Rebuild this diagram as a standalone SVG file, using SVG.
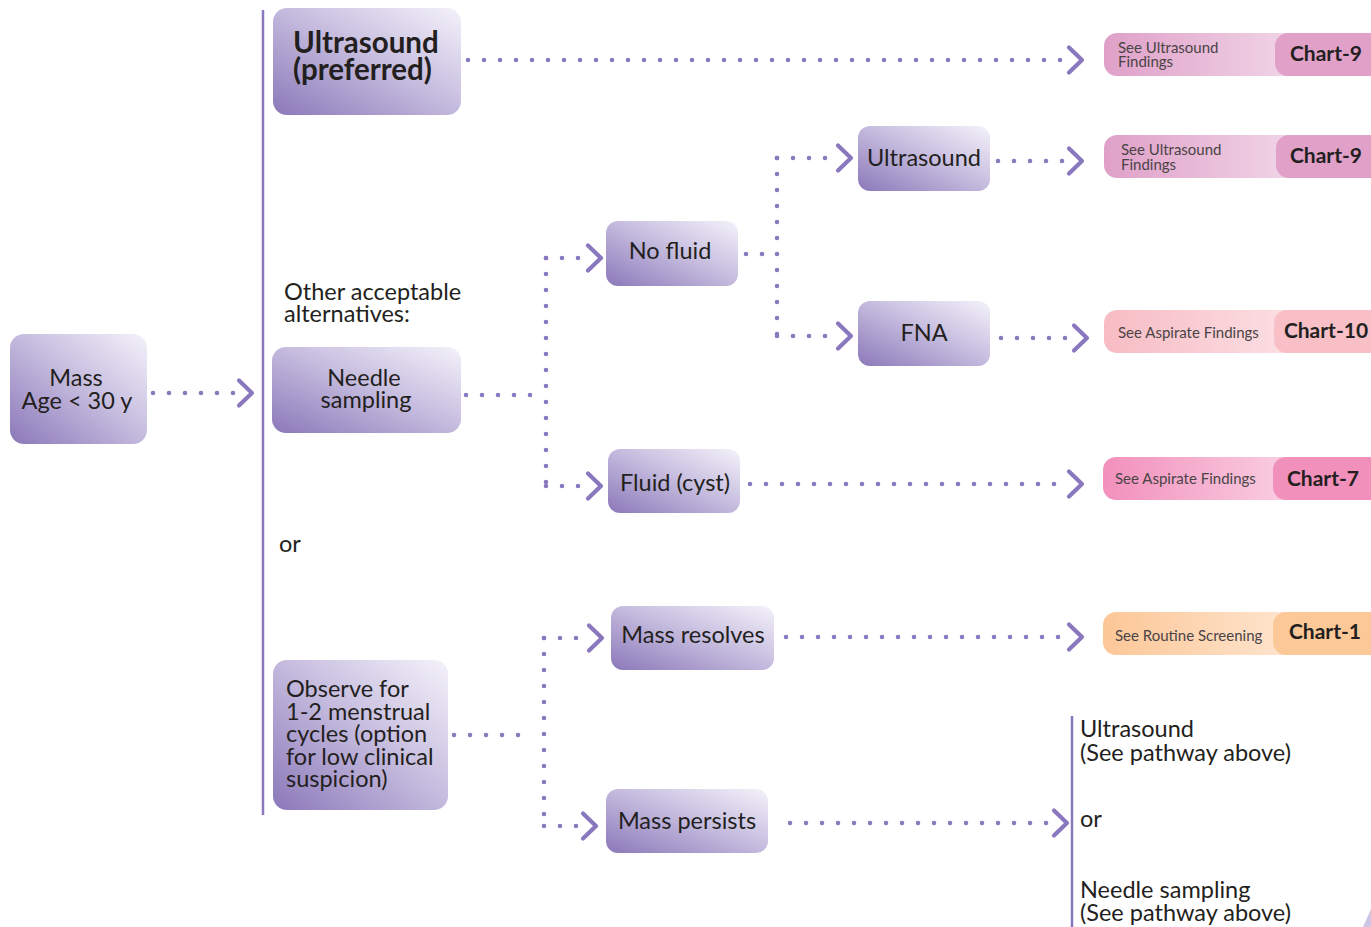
<svg xmlns="http://www.w3.org/2000/svg" xmlns:xlink="http://www.w3.org/1999/xlink" width="1371" height="927" viewBox="0 0 1371 927">
  <defs>
    <linearGradient id="nodeFill" x1="0" y1="1" x2="1" y2="0">
      <stop offset="0" stop-color="#8b78b9"/>
      <stop offset="0.55" stop-color="#c8bfe0"/>
      <stop offset="1" stop-color="#f4f2fa"/>
    </linearGradient>
    <linearGradient id="mauveFill" x1="0" y1="0" x2="1" y2="0">
      <stop offset="0" stop-color="#dfa0c8"/>
      <stop offset="1" stop-color="#f9eef5"/>
    </linearGradient>
    <linearGradient id="roseFill" x1="0" y1="0" x2="1" y2="0">
      <stop offset="0" stop-color="#f7bcc4"/>
      <stop offset="1" stop-color="#fdf0f2"/>
    </linearGradient>
    <linearGradient id="pinkFill" x1="0" y1="0" x2="1" y2="0">
      <stop offset="0" stop-color="#f290bc"/>
      <stop offset="1" stop-color="#fdeef5"/>
    </linearGradient>
    <linearGradient id="peachFill" x1="0" y1="0" x2="1" y2="0">
      <stop offset="0" stop-color="#fcc797"/>
      <stop offset="1" stop-color="#fff3ea"/>
    </linearGradient>
    <path id="chev" d="M-13,-12.5 L0,0 L-13,12.5"/>
    <style>
      .node { fill: url(#nodeFill); }
      .lbl { font-family: Lato, "Liberation Sans", sans-serif; font-size: 23.5px; fill: #231f20; }
      .mid { text-anchor: middle; }
      .big { font-size: 29.5px; font-weight: bold; }
      .dots { fill: none; stroke: #8a78bf; stroke-width: 4.6; stroke-linecap: round; stroke-dasharray: 0 16; }
      .chev { fill: none; stroke: #8a78bf; stroke-width: 4.2; stroke-linecap: round; stroke-linejoin: round; }
      .rule { stroke: #8a78bf; stroke-width: 2.5; }
      .see { font-family: Lato, "Liberation Sans", sans-serif; font-size: 15px; fill: #4a4446; }
      .chart { font-family: Lato, "Liberation Sans", sans-serif; font-size: 21px; font-weight: bold; fill: #231f20; text-anchor: middle; }
    </style>
  </defs>

  <rect width="1371" height="927" fill="#ffffff"/>

  <!-- dividers -->
  <line class="rule" x1="263" y1="10" x2="263" y2="815"/>
  <line class="rule" x1="1072" y1="716" x2="1072" y2="927"/>

  <!-- connectors -->
  <g id="connectors">
    <path class="dots" d="M153,393 H236"/>
    <use href="#chev" class="chev" x="252" y="393"/>

    <path class="dots" d="M468,60 H1066"/>
    <use href="#chev" class="chev" x="1082" y="60"/>

    <path class="dots" d="M466,395 H532"/>
    <path class="dots" d="M546,258 V490"/>
    <path class="dots" d="M546,258 H580"/>
    <use href="#chev" class="chev" x="601" y="258"/>
    <path class="dots" d="M546,486 H580"/>
    <use href="#chev" class="chev" x="601" y="486"/>

    <path class="dots" d="M746,254 H764"/>
    <path class="dots" d="M777,158 V340"/>
    <path class="dots" d="M777,158 H828"/>
    <use href="#chev" class="chev" x="851" y="158"/>
    <path class="dots" d="M777,336 H828"/>
    <use href="#chev" class="chev" x="851" y="336"/>

    <path class="dots" d="M998,161 H1064"/>
    <use href="#chev" class="chev" x="1082" y="161"/>
    <path class="dots" d="M1001,338 H1067"/>
    <use href="#chev" class="chev" x="1087" y="338"/>

    <path class="dots" d="M750,484 H1066"/>
    <use href="#chev" class="chev" x="1082" y="484"/>

    <path class="dots" d="M454,735 H532"/>
    <path class="dots" d="M544,638 V830"/>
    <path class="dots" d="M544,638 H578"/>
    <use href="#chev" class="chev" x="602" y="638"/>
    <path class="dots" d="M544,826 H578"/>
    <use href="#chev" class="chev" x="596" y="826"/>

    <path class="dots" d="M786,637 H1066"/>
    <use href="#chev" class="chev" x="1082" y="637"/>
    <path class="dots" d="M790,823 H1054"/>
    <use href="#chev" class="chev" x="1067" y="823"/>
  </g>

  <!-- nodes -->
  <g id="mass">
    <rect class="node" x="10" y="334" width="137" height="110" rx="14"/>
    <text class="lbl mid" x="76" y="386">Mass</text>
    <text class="lbl mid" x="77" y="409">Age &lt; 30 y</text>
  </g>

  <g id="ultrasound-preferred">
    <rect class="node" x="273" y="8" width="188" height="107" rx="14"/>
    <text class="lbl big" x="293" y="53">Ultrasound</text>
    <text class="lbl big" x="293" y="80">(preferred)</text>
  </g>

  <text class="lbl" x="284" y="300">Other acceptable</text>
  <text class="lbl" x="284" y="322">alternatives:</text>

  <g id="needle-sampling">
    <rect class="node" x="272" y="347" width="189" height="86" rx="14"/>
    <text class="lbl mid" x="364" y="386">Needle</text>
    <text class="lbl mid" x="366" y="408">sampling</text>
  </g>

  <text class="lbl" x="279" y="552">or</text>

  <g id="observe">
    <rect class="node" x="273" y="660" width="175" height="150" rx="14"/>
    <text class="lbl" x="286" y="697">Observe for</text>
    <text class="lbl" x="286" y="720">1-2 menstrual</text>
    <text class="lbl" x="286" y="742">cycles (option</text>
    <text class="lbl" x="286" y="765">for low clinical</text>
    <text class="lbl" x="286" y="787">suspicion)</text>
  </g>

  <g id="no-fluid">
    <rect class="node" x="606" y="221" width="132" height="65" rx="12"/>
    <text class="lbl mid" x="670" y="259">No fluid</text>
  </g>

  <g id="fluid-cyst">
    <rect class="node" x="608" y="449" width="132" height="64" rx="12"/>
    <text class="lbl mid" x="675" y="491">Fluid (cyst)</text>
  </g>

  <g id="ultrasound">
    <rect class="node" x="858" y="126" width="132" height="65" rx="12"/>
    <text class="lbl mid" x="924" y="166">Ultrasound</text>
  </g>

  <g id="fna">
    <rect class="node" x="858" y="301" width="132" height="65" rx="12"/>
    <text class="lbl mid" x="924" y="341">FNA</text>
  </g>

  <g id="mass-resolves">
    <rect class="node" x="611" y="606" width="163" height="64" rx="12"/>
    <text class="lbl mid" x="693" y="643">Mass resolves</text>
  </g>

  <g id="mass-persists">
    <rect class="node" x="606" y="789" width="162" height="64" rx="12"/>
    <text class="lbl mid" x="687" y="829">Mass persists</text>
  </g>

  <!-- chart references -->
  <g id="ref-us-1">
    <rect x="1104" y="33" width="280" height="43" rx="13" fill="url(#mauveFill)"/>
    <rect x="1275" y="33" width="109" height="43" rx="13" fill="#e0a0c8"/>
    <text class="see" x="1118" y="53">See Ultrasound</text>
    <text class="see" x="1118" y="67">Findings</text>
    <text class="chart" x="1326" y="61">Chart-9</text>
  </g>

  <g id="ref-us-2">
    <rect x="1104" y="135" width="280" height="43" rx="13" fill="url(#mauveFill)"/>
    <rect x="1276" y="135" width="108" height="43" rx="13" fill="#e0a0c8"/>
    <text class="see" x="1121" y="155">See Ultrasound</text>
    <text class="see" x="1121" y="170">Findings</text>
    <text class="chart" x="1326" y="163">Chart-9</text>
  </g>

  <g id="ref-aspirate-10">
    <rect x="1104" y="310" width="280" height="43" rx="13" fill="url(#roseFill)"/>
    <rect x="1274" y="310" width="110" height="43" rx="13" fill="#f8c0c6"/>
    <text class="see" x="1118" y="338">See Aspirate Findings</text>
    <text class="chart" x="1326" y="338">Chart-10</text>
  </g>

  <g id="ref-aspirate-7">
    <rect x="1103" y="457" width="281" height="43" rx="13" fill="url(#pinkFill)"/>
    <rect x="1273" y="457" width="111" height="43" rx="13" fill="#f290bc"/>
    <text class="see" x="1115" y="484">See Aspirate Findings</text>
    <text class="chart" x="1323" y="486">Chart-7</text>
  </g>

  <g id="ref-screening">
    <rect x="1103" y="612" width="281" height="43" rx="13" fill="url(#peachFill)"/>
    <rect x="1273" y="612" width="111" height="43" rx="13" fill="#fcc898"/>
    <text class="see" x="1115" y="641">See Routine Screening</text>
    <text class="chart" x="1325" y="639">Chart-1</text>
  </g>

  <!-- persisting mass options -->
  <g id="persist-options">
    <text class="lbl" x="1080" y="737">Ultrasound</text>
    <text class="lbl" x="1080" y="761">(See pathway above)</text>
    <text class="lbl" x="1080" y="827">or</text>
    <text class="lbl" x="1080" y="898">Needle sampling</text>
    <text class="lbl" x="1080" y="921">(See pathway above)</text>
  </g>

  <polygon points="1363,927 1371,909 1371,927" fill="#cdc5e4"/>
</svg>
